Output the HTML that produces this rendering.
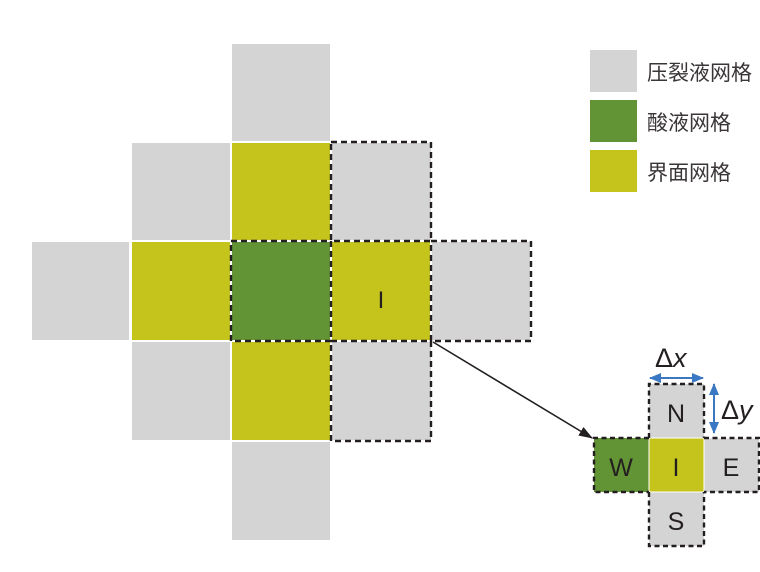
<!DOCTYPE html>
<html><head><meta charset="utf-8"><style>
html,body{margin:0;padding:0;background:#fff;}
svg{display:block;}
text{font-family:"Liberation Sans","Noto Sans CJK SC",sans-serif;fill:#231f20;}
</style></head><body>
<svg width="760" height="572" viewBox="0 0 760 572" xmlns="http://www.w3.org/2000/svg">
<defs>
<marker id="ab" markerWidth="14" markerHeight="12" refX="13" refY="6" orient="auto" markerUnits="userSpaceOnUse"><path d="M0,1 L14,6 L0,11 Z" fill="#231f20"/></marker>
<marker id="bl" markerWidth="12" markerHeight="12" refX="11" refY="6" orient="auto-start-reverse" markerUnits="userSpaceOnUse"><path d="M0,1 L12,6 L0,11 Z" fill="#3b78c4"/></marker>
</defs>
<g>
<rect x="232" y="44" width="98" height="97" fill="#d4d4d4"/>
<rect x="132" y="143" width="98" height="97" fill="#d4d4d4"/>
<rect x="232" y="143" width="98" height="97" fill="#c5c41d"/>
<rect x="332" y="143" width="99" height="97" fill="#d4d4d4"/>
<rect x="32" y="242" width="97" height="98" fill="#d4d4d4"/>
<rect x="132" y="242" width="98" height="98" fill="#c5c41d"/>
<rect x="232" y="242" width="98" height="98" fill="#629435"/>
<rect x="332" y="242" width="98" height="98" fill="#c5c41d"/>
<rect x="432" y="242" width="98" height="98" fill="#d4d4d4"/>
<rect x="132" y="342" width="98" height="98" fill="#d4d4d4"/>
<rect x="232" y="342" width="98" height="98" fill="#c5c41d"/>
<rect x="332" y="342" width="99" height="98" fill="#d4d4d4"/>
<rect x="232" y="442" width="98" height="98" fill="#d4d4d4"/>
</g>
<g fill="none" stroke="#231f20" stroke-width="2.4" stroke-dasharray="6,4">
<rect x="331" y="142" width="100" height="99"/>
<rect x="231" y="241" width="100" height="100"/>
<rect x="431" y="241" width="100" height="100"/>
<rect x="331" y="341" width="100" height="100"/>
</g>
<text x="381" y="308" font-size="24" text-anchor="middle">I</text>
<line x1="433" y1="342" x2="592" y2="438" stroke="#231f20" stroke-width="1.6" marker-end="url(#ab)"/>
<rect x="590" y="50" width="47" height="42" fill="#d4d4d4"/>
<rect x="590" y="100" width="47" height="42" fill="#629435"/>
<rect x="590" y="150" width="47" height="42" fill="#c5c41d"/>
<text x="647" y="80" font-size="21" style="fill:#3a3536">压裂液网格</text>
<text x="647" y="130" font-size="21" style="fill:#3a3536">酸液网格</text>
<text x="647" y="180" font-size="21" style="fill:#3a3536">界面网格</text>
<rect x="649" y="384" width="55" height="54" fill="#d4d4d4"/>
<rect x="594" y="438" width="55" height="54" fill="#629435"/>
<rect x="649" y="438" width="55" height="54" fill="#c5c41d"/>
<rect x="704" y="438" width="55" height="54" fill="#d4d4d4"/>
<rect x="649" y="492" width="55" height="54" fill="#d4d4d4"/>
<line x1="649" y1="438" x2="759" y2="438" stroke="#fff" stroke-width="1"/>
<line x1="649" y1="492" x2="704" y2="492" stroke="#fff" stroke-width="1"/>
<line x1="649" y1="438" x2="649" y2="492" stroke="#fff" stroke-width="1"/>
<line x1="704" y1="438" x2="704" y2="492" stroke="#fff" stroke-width="1"/>
<g fill="none" stroke="#231f20" stroke-width="2.4" stroke-dasharray="5,3.5">
<path d="M649,438 V384 H704 V438"/>
<path d="M649,438 H594 V492 H649"/>
<path d="M704,438 H759 V492 H704"/>
<path d="M649,492 V546 H704 V492"/>
</g>
<text x="676" y="422" font-size="25" text-anchor="middle">N</text>
<text x="621" y="476" font-size="25" text-anchor="middle">W</text>
<text x="676" y="476" font-size="25" text-anchor="middle">I</text>
<text x="731" y="476" font-size="25" text-anchor="middle">E</text>
<text x="676" y="530" font-size="25" text-anchor="middle">S</text>
<line x1="650" y1="378" x2="703" y2="378" stroke="#3b78c4" stroke-width="2" marker-start="url(#bl)" marker-end="url(#bl)"/>
<line x1="714" y1="384" x2="714" y2="433" stroke="#3b78c4" stroke-width="2" marker-start="url(#bl)" marker-end="url(#bl)"/>
<text x="655" y="367" font-size="27">Δ<tspan font-style="italic">x</tspan></text>
<text x="721" y="419" font-size="27">Δ<tspan font-style="italic">y</tspan></text>
</svg>
</body></html>
